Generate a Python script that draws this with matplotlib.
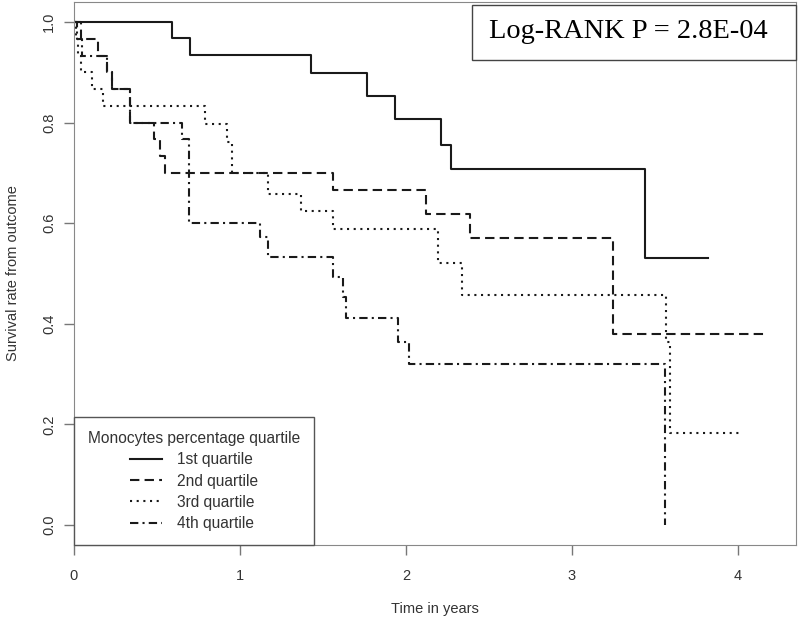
import matplotlib
matplotlib.use("Agg")
import matplotlib.pyplot as plt
from matplotlib.patches import Rectangle

# Kaplan-Meier curves: drop times, survival after each drop, last follow-up
q1_t = [0.59, 0.70, 1.426, 1.767, 1.934, 2.209, 2.271, 3.44]
q1_s = [0.969, 0.934, 0.899, 0.854, 0.808, 0.755, 0.707, 0.53]
q1_end = 3.82

q2_t = [0.04, 0.146, 0.196, 0.227, 0.337, 0.48, 0.52, 0.55, 1.558, 2.12, 2.386, 3.245]
q2_s = [0.967, 0.933, 0.90, 0.867, 0.80, 0.767, 0.733, 0.70, 0.666, 0.618, 0.57, 0.38]
q2_end = 4.18

q3_t = [0.01, 0.025, 0.04, 0.11, 0.175, 0.79, 0.92, 0.95, 1.17, 1.37, 1.56, 2.195, 2.34, 3.566, 3.59]
q3_s = [0.967, 0.933, 0.90, 0.867, 0.833, 0.797, 0.762, 0.70, 0.659, 0.625, 0.588, 0.521, 0.457, 0.364, 0.183]
q3_end = 4.02

q4_t = [0.02, 0.05, 0.196, 0.227, 0.337, 0.34, 0.65, 0.69, 1.12, 1.17, 1.56, 1.62, 1.64, 1.95, 2.02, 3.56]
q4_s = [0.967, 0.933, 0.90, 0.867, 0.833, 0.80, 0.767, 0.60, 0.573, 0.533, 0.494, 0.454, 0.411, 0.364, 0.32, 0.0]
q4_end = 3.56

labels = ["1st quartile", "2nd quartile", "3rd quartile", "4th quartile"]
x_ticks = [0, 1, 2, 3, 4]
y_ticks = [0.0, 0.2, 0.4, 0.6, 0.8, 1.0]
pval_text = "Log-RANK P = 2.8E-04"


def km_xy(times, surv, end):
    x = [0] + list(times)
    y = [1.0] + list(surv)
    if end > x[-1]:
        x.append(end)
        y.append(y[-1])
    return x, y


plt.rcParams["font.family"] = ["Liberation Sans", "DejaVu Sans"]

fig = plt.figure(figsize=(8, 6.24), dpi=100)
ax = fig.add_axes([0.0925, 0.1266, 0.9025, 0.8702])

line_col = "#1a1a1a"
dash_styles = [None, (4.5, 2.5), (1, 2.2), (4, 2, 1, 2)]
series = [(q1_t, q1_s, q1_end), (q2_t, q2_s, q2_end),
          (q3_t, q3_s, q3_end), (q4_t, q4_s, q4_end)]

handles = []
for (t, s, end), dsh, lab in zip(series, dash_styles, labels):
    x, y = km_xy(t, s, end)
    ln, = ax.plot(x, y, drawstyle="steps-post", color=line_col, lw=1.5, label=lab)
    if dsh is not None:
        ln.set_dashes(dsh)
    handles.append(ln)

ax.set_xlim(0, 4.35)
ax.set_ylim(-0.04, 1.04)
ax.set_xticks(x_ticks)
ax.set_yticks(y_ticks)
ax.set_yticklabels([f"{v:.1f}" for v in y_ticks], rotation=90, va="center")
ax.tick_params(colors="#777777", labelcolor="#333333", labelsize=10.5, length=7, width=1)
ax.tick_params(axis="x", pad=10)
ax.tick_params(axis="y", pad=6)
for sp in ax.spines.values():
    sp.set_color("#888888")

ax.set_xlabel("Time in years", fontsize=10.5, color="#333333", labelpad=14)
ax.set_ylabel("Survival rate from outcome", fontsize=10.5, color="#333333", labelpad=16)

leg = ax.legend(handles=handles, title="Monocytes percentage quartile",
                loc="lower left", bbox_to_anchor=(0, 0), borderaxespad=0,
                fontsize=11.2, title_fontsize=11.2, fancybox=False,
                edgecolor="#555555", framealpha=1, handlelength=2.05,
                handletextpad=0.95, labelspacing=0.4, borderpad=0.9)
leg.get_frame().set_linewidth(1)
for txt in leg.get_texts():
    txt.set_color("#333333")
leg.get_title().set_color("#333333")

# p-value box in the top right corner
fig.patches.append(Rectangle((0.59, 0.904), 0.405, 0.088, transform=fig.transFigure,
                             fc="white", ec="#444444", lw=1, zorder=5))
fig.text(0.786, 0.949, pval_text, ha="center", va="center", fontsize=20.4,
         family=["Liberation Serif", "DejaVu Serif"], zorder=6)

fig.savefig("out.png", dpi=100)
